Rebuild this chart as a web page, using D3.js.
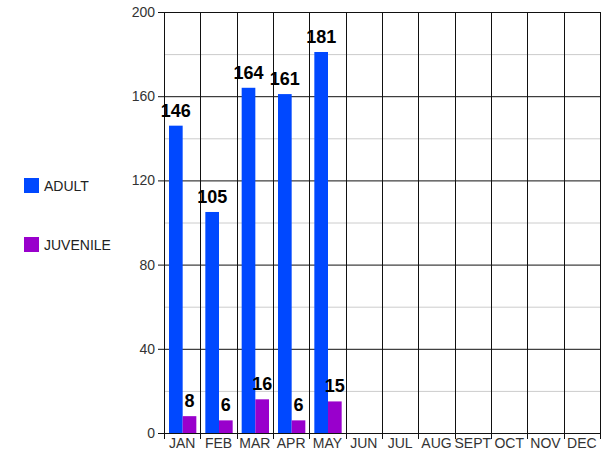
<!DOCTYPE html>
<html lang="en">
<head>
  <meta charset="UTF-8">
  <title>Adult / Juvenile</title>
  <script src="https://cdn.jsdelivr.net/npm/d3@7/dist/d3.min.js"></script>
  <style>
    body { margin: 0; background: #fff; }
    svg { font-family: "Liberation Sans", Arial, sans-serif; }
    .tick-label { font-size: 14px; fill: #333; }
    .val { font-size: 18px; font-weight: bold; fill: #000; }
    .legend text { font-size: 14px; fill: #222; }
  </style>
</head>
<body>
  <svg id="chart" width="611" height="461"></svg>
  <script>
    const months = ['JAN', 'FEB', 'MAR', 'APR', 'MAY', 'JUN', 'JUL', 'AUG', 'SEPT', 'OCT', 'NOV', 'DEC']
    const adult = [146, 105, 164, 161, 181, null, null, null, null, null, null, null]
    const juvenile = [8, 6, 16, 6, 15, null, null, null, null, null, null, null]
    const seriesNames = ['ADULT', 'JUVENILE']
    const colors = ['#0048ff', '#9900cc']
    const yTicks = [0, 40, 80, 120, 160, 200]
    const yMinor = [20, 60, 100, 140, 180]

    const svg = d3.select('#chart')
    const plotLeft = 164, plotRight = 600, plotTop = 12, plotBottom = 433

    const x = d3.scaleBand().domain(months).range([plotLeft, plotRight]).paddingInner(0).paddingOuter(0)
    const y = d3.scaleLinear().domain([0, 200]).range([plotBottom, plotTop])
    const sub = d3.scaleBand().domain(seriesNames).range([5, x.bandwidth() - 4]).padding(0)

    // minor gridlines
    svg.append('g').selectAll('line').data(yMinor).enter().append('line')
      .attr('x1', plotLeft).attr('x2', plotRight)
      .attr('y1', d => y(d) + 0.5).attr('y2', d => y(d) + 0.5)
      .attr('stroke', '#ccc').attr('stroke-width', 1)

    // major gridlines + left ticks
    svg.append('g').selectAll('line').data(yTicks).enter().append('line')
      .attr('x1', plotLeft - 6).attr('x2', plotRight)
      .attr('y1', d => y(d) + 0.5).attr('y2', d => y(d) + 0.5)
      .attr('stroke', '#111').attr('stroke-width', 1)

    // vertical category dividers extending into ticks
    const bounds = months.map(m => x(m)).concat([plotRight])
    svg.append('g').selectAll('line').data(bounds).enter().append('line')
      .attr('x1', d => Math.round(d) + 0.5).attr('x2', d => Math.round(d) + 0.5)
      .attr('y1', plotTop).attr('y2', plotBottom + 6)
      .attr('stroke', '#111').attr('stroke-width', 1)

    // y labels
    svg.append('g').selectAll('text').data(yTicks).enter().append('text')
      .attr('class', 'tick-label')
      .attr('x', 155).attr('y', d => y(d) + 5)
      .attr('text-anchor', 'end')
      .text(d => d)

    // x labels
    svg.append('g').selectAll('text').data(months).enter().append('text')
      .attr('class', 'tick-label')
      .attr('x', d => x(d) + x.bandwidth() / 2).attr('y', 448)
      .attr('text-anchor', 'middle')
      .text(d => d)

    // bars
    const rows = months.map((m, i) => ({ m, vals: [adult[i], juvenile[i]] }))
    const groups = svg.append('g').selectAll('g').data(rows).enter().append('g')
      .attr('transform', d => `translate(${x(d.m)},0)`)

    groups.selectAll('rect')
      .data(d => d.vals.map((v, j) => ({ v, s: seriesNames[j], c: colors[j] })).filter(e => e.v != null))
      .enter().append('rect')
      .attr('x', e => sub(e.s))
      .attr('width', sub.bandwidth())
      .attr('y', e => y(e.v))
      .attr('height', e => y(0) - y(e.v))
      .attr('fill', e => e.c)

    groups.selectAll('text')
      .data(d => d.vals.map((v, j) => ({ v, s: seriesNames[j] })).filter(e => e.v != null))
      .enter().append('text')
      .attr('class', 'val')
      .attr('x', e => sub(e.s) + sub.bandwidth() / 2)
      .attr('y', e => y(e.v) - 9)
      .attr('text-anchor', 'middle')
      .text(e => e.v)

    // legend
    const legend = svg.append('g').attr('class', 'legend')
    seriesNames.forEach((name, i) => {
      const g = legend.append('g').attr('transform', `translate(24,${178 + i * 59})`)
      g.append('rect').attr('width', 15).attr('height', 15).attr('fill', colors[i])
      g.append('text').attr('x', 20).attr('y', 13).text(name)
    })
  </script>
</body>
</html>
